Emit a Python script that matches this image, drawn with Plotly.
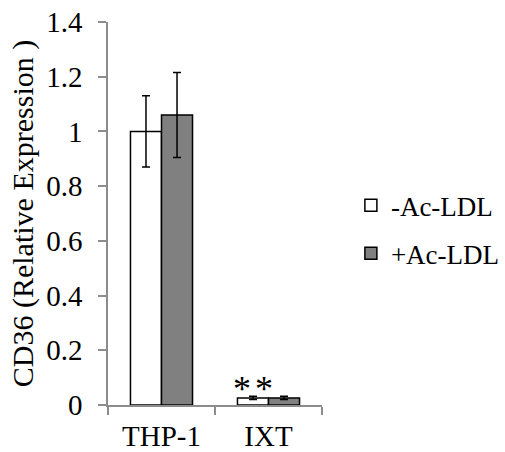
import plotly.graph_objects as go

categories = ["THP-1", "IXT"]
minus_vals = [1.0, 0.026]
minus_err = [0.13, 0.006]
plus_vals = [1.06, 0.026]
plus_err = [0.155, 0.006]
series_names = ["-Ac-LDL", "+Ac-LDL"]

FONT = "Liberation Serif, Times New Roman, serif"

fig = go.Figure()
fig.add_trace(go.Bar(
    x=categories, y=minus_vals, name=series_names[0], legendgroup="a",
    marker=dict(color="white", line=dict(color="black", width=1.5)),
    error_y=dict(type="data", array=minus_err, color="black", thickness=1.5, width=4),
))
fig.add_trace(go.Bar(
    x=categories, y=plus_vals, name=series_names[1], legendgroup="b",
    marker=dict(color="#808080", line=dict(color="black", width=1.5)),
    error_y=dict(type="data", array=plus_err, color="black", thickness=1.5, width=4),
))

for xs in (-27, -5):
    fig.add_annotation(x="IXT", y=0, text="*", showarrow=False, xshift=xs,
                       yanchor="bottom", yshift=-6, font=dict(family=FONT, size=36, color="black"))

fig.update_layout(
    width=505, height=452,
    margin=dict(l=108, r=183, t=22, b=47, autoexpand=False),
    paper_bgcolor="white", plot_bgcolor="white",
    barmode="group", bargap=0.42, bargroupgap=0,
    font=dict(family=FONT, size=27, color="black"),
    showlegend=True,
    legend=dict(x=1.135, y=0.458, xanchor="left", yanchor="middle",
                font=dict(family=FONT, size=27, color="black"),
                tracegroupgap=10, itemwidth=30, bgcolor="rgba(0,0,0,0)"),
)
fig.update_xaxes(
    showline=True, linecolor="#8c8c8c", linewidth=1.5, automargin=False,
    ticks="outside", tickson="boundaries", ticklen=8, tickcolor="#8c8c8c", tickwidth=1.5,
    ticklabelstandoff=4,
    tickfont=dict(family=FONT, size=29, color="black"), showgrid=False,
)
fig.update_yaxes(
    range=[0, 1.4], dtick=0.2, showline=True, linecolor="#8c8c8c", linewidth=1.5, automargin=False,
    ticks="outside", ticklen=8, tickcolor="#8c8c8c", tickwidth=1.5,
    ticklabelstandoff=10,
    showgrid=False, zeroline=False,
    tickfont=dict(family=FONT, size=29, color="black"),
    tickformat="~g",
    title=dict(text="CD36 (Relative Expression )", font=dict(family=FONT, size=30, color="black"), standoff=4),
)

fig.write_html("out.html")
